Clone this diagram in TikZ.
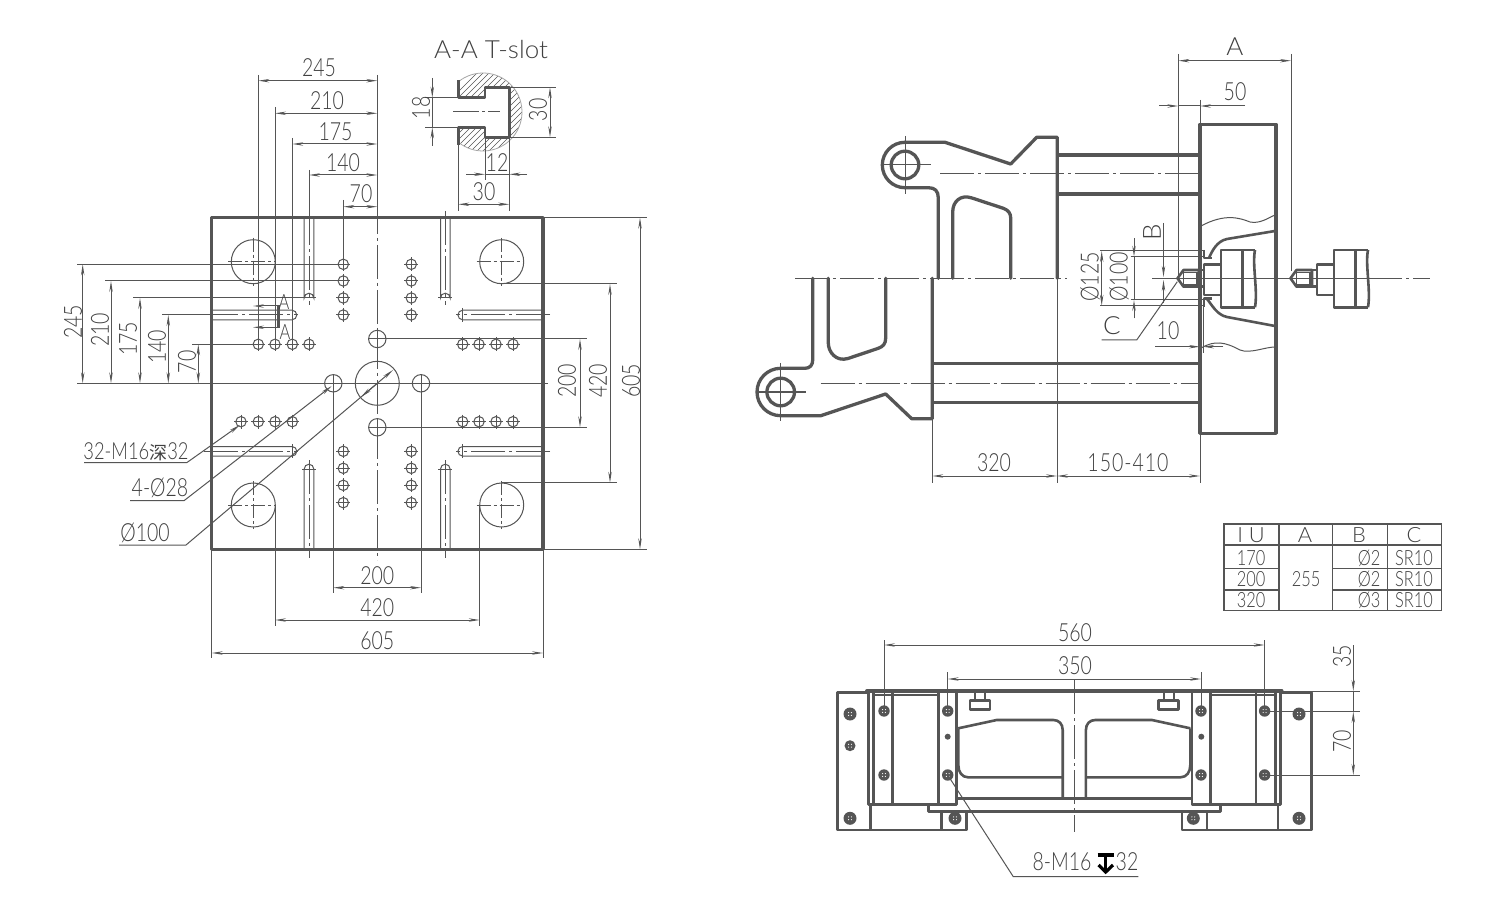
\documentclass[tikz,border=0pt]{standalone}
\usepackage{fontspec}
\setmainfont{Lato}[UprightFont=* Light,FakeStretch=0.78]
\newfontfamily\titf{Lato}[UprightFont=* Light,FakeStretch=1.04]
\newfontfamily\cjkf{Noto Sans CJK SC}
\usetikzlibrary{arrows.meta}
\definecolor{ink}{HTML}{555555}
\definecolor{txtc}{HTML}{404040}
\newcounter{lbl}
\newcommand\xT[3]{\stepcounter{lbl}\node[txt] (lbl\thelbl) at (#1,#2) {#3};}
\newcommand\xR[3]{\stepcounter{lbl}\node[txt,rotate=90] (lbl\thelbl) at (#1,#2) {#3};}
\newcommand\xS[3]{\stepcounter{lbl}\node[txs] (lbl\thelbl) at (#1,#2) {#3};}
\newcommand\xH[2]{\draw[thin1] (#1-7,#2)--(#1+7,#2) (#1,#2-7)--(#1,#2+7); \draw[thin1] (#1,#2) circle[radius=5.2];}
\newcommand\xB[2]{\draw[thin1] (#1,#2) circle[radius=22]; \draw[cen2] (#1-25,#2)--(#1+22,#2) (#1,#2-24)--(#1,#2+24);}
\newcommand\xL[3]{\fill[ink] (#1,#2) circle[radius=#3]; \fill[white] (#1-1.4,#2-1.4) circle[radius=.6] (#1+1.4,#2-1.4) circle[radius=.6] (#1-1.4,#2+1.4) circle[radius=.6] (#1+1.4,#2+1.4) circle[radius=.6];}
\tikzset{
 thin1/.style={draw=ink,line width=1pt},
 thick1/.style={draw=ink,line width=3.3pt,line join=round,line cap=round},
 med1/.style={draw=ink,line width=2.6pt,line join=round},
 cen1/.style={draw=ink,line width=1pt,dash pattern=on 34pt off 4pt on 3pt off 4pt},
 cen2/.style={draw=ink,line width=1pt,dash pattern=on 14pt off 3pt on 3pt off 3pt},
 dimn/.style={thin1,{Stealth[length=11pt,width=3.4pt]}-{Stealth[length=11pt,width=3.4pt]}},
 arrE/.style={thin1,-{Stealth[length=11pt,width=3.4pt]}},
 txt/.style={text=txtc,font=\fontsize{25}{25}\selectfont,inner sep=0pt},
 txs/.style={text=txtc,font=\fontsize{21}{21}\selectfont,inner sep=0pt},
}
\begin{document}
\begin{tikzpicture}[x=1pt,y=-1pt]
\useasboundingbox (0,0) rectangle (1500,909);
\fill[white] (0,0) rectangle (1500,909);
%% ---- LEFT PLATE ----
\draw[thick1] (211.7,217.7) rectangle (543,549.3);
\draw[cen1] (377.3,200)--(377.3,560);
\xB{253.3}{261.7}\xB{501.7}{261.7}\xB{253.3}{505}\xB{501.7}{505}
\draw[thin1] (377.3,383.3) circle[radius=22];
\foreach \p in {(333.3,383.3),(421,383.3),(377.3,339),(377.3,427.3)}{\draw[thin1] \p circle[radius=8.7];}
\draw[thin1] (324,383.3)--(343,383.3) (333.3,375)--(333.3,392) (421,375)--(421,392) (369,339)--(386,339) (377.3,331)--(377.3,348) (369,427.3)--(386,427.3) (377.3,419)--(377.3,436);
%% holes
\foreach \y in {264.3,281,298,315,451.3,468.3,485.3,502.7}{\xH{343.3}{\y}\xH{411.3}{\y}}
\foreach \x in {258.3,275,292.3,309}{\xH{\x}{344.3}}
\foreach \x in {462.7,479,496,513}{\xH{\x}{344.3}\xH{\x}{421.7}}
\foreach \x in {241,258.3,275,292.3}{\xH{\x}{421.7}}
%% slots vertical
\foreach \x in {309,445.3}{
 \draw[thin1] (\x-4.8,217.7)--(\x-4.8,298) arc[start angle=180,end angle=360,radius=4.8]--(\x+4.8,217.7);
 \draw[thin1] (\x-7,298)--(\x+7,298);
 \draw[cen1] (\x,211)--(\x,305);
 \draw[thin1] (\x-4.8,549.3)--(\x-4.8,469) arc[start angle=180,end angle=360,radius=4.8]--(\x+4.8,549.3);
 \draw[thin1] (\x-7,469)--(\x+7,469);
 \draw[cen1] (\x,460)--(\x,558);
}
%% slots horizontal
\foreach \y in {315,451.3}{
 \draw[thin1] (211.7,\y-4.8)--(292,\y-4.8) arc[start angle=270,end angle=450,radius=4.8]--(211.7,\y+4.8);
 \draw[thin1] (292,\y-7)--(292,\y+7);
 \draw[cen1] (204,\y)--(298,\y);
 \draw[thin1] (543,\y-4.8)--(462.7,\y-4.8) arc[start angle=270,end angle=90,radius=4.8]--(543,\y+4.8);
 \draw[thin1] (462.7,\y-7)--(462.7,\y+7);
 \draw[cen1] (550,\y)--(456,\y);
}
%% top dims
\draw[thin1] (258.3,75)--(258.3,344.3) (275,107)--(275,344.3) (292.3,138)--(292.3,344.3) (309,170)--(309,217) (343.3,200)--(343.3,264.3) (377.3,75)--(377.3,217);
\draw[dimn] (258.3,80.7)--(377.3,80.7);
\draw[dimn] (275,113.3)--(377.3,113.3);
\draw[dimn] (292.3,144)--(377.3,144);
\draw[dimn] (309,175)--(377.3,175);
\draw[dimn] (343.3,206.7)--(377.3,206.7);
\xT{319}{68}{245}\xT{327}{100.5}{210}\xT{335.5}{131.5}{175}\xT{343}{162.5}{140}\xT{361}{193.5}{70}
%% left dims
\draw[thin1] (77,264.3)--(343.3,264.3) (105,281)--(343.3,281) (133,298)--(309,298) (162,315)--(211,315) (192,344.3)--(258.3,344.3) (77,383.3)--(548,383.3);
\draw[dimn] (82.7,264.3)--(82.7,383.3);
\draw[dimn] (111,281)--(111,383.3);
\draw[dimn] (140,298)--(140,383.3);
\draw[dimn] (168.3,315)--(168.3,383.3);
\draw[dimn] (198.3,344.3)--(198.3,383.3);
\xR{73}{322}{245}\xR{100}{330}{210}\xR{128}{339}{175}\xR{157}{347}{140}\xR{187}{362}{70}
%% right dims
\draw[thin1] (543,217.7)--(647,217.7) (543,549.3)--(647,549.3) (501.7,284)--(617,284) (501.7,482.7)--(617,482.7) (377.3,339)--(587,339) (377.3,427.3)--(587,427.3);
\draw[dimn] (640,217.7)--(640,549.3);
\draw[dimn] (610,284)--(610,482.7);
\draw[dimn] (580,339)--(580,427.3);
\xR{631}{381}{605}\xR{598}{381}{420}\xR{567}{381}{200}
%% bottom dims
\draw[thin1] (333.3,392)--(333.3,593) (421,392)--(421,593) (275,505)--(275,626) (479.7,505)--(479.7,626) (211.7,549.3)--(211.7,658) (543,549.3)--(543,658);
\draw[dimn] (333.3,587.7)--(421,587.7);
\draw[dimn] (275,620)--(479.7,620);
\draw[dimn] (211.7,653)--(543,653);
\xT{377.3}{576}{200}\xT{377.3}{608}{420}\xT{377.3}{641}{605}
%% leaders
\coordinate (l1a) at (84,462.7);\coordinate (l1b) at (186.7,462.7);\coordinate (l1c) at (240,425);
\draw[arrE] (l1a)--(l1b)--(l1c);
\coordinate (l2a) at (130,500.7);\coordinate (l2b) at (184,500.7);\coordinate (l2c) at (331.7,386);
\draw[arrE] (l2a)--(l2b)--(l2c);
\coordinate (l3a) at (119,545);\coordinate (l3b) at (186,545);\coordinate (l3c) at (393,370);
\draw[arrE] (l3a)--(l3b)--(l3c);
\draw[thin1,-{Stealth[length=11pt,width=3.4pt]}] (377.3,383.3)--(361,397);
\xT{136}{452}{\fontsize{23.5}{24}\selectfont 32-M16{\cjkf\fontsize{18}{18}\selectfont 深}32}\xT{160}{488}{4-Ø28}\xT{145}{533}{Ø100}
%% A-A marks
\draw[draw=ink,line width=3pt] (278.5,305)--(278.5,328);
\draw[arrE] (278,306)--(253,306);
\draw[arrE] (278,327.3)--(253,327.3);
\xS{284}{302}{A}\xS{285}{332}{A}
%% ---- T-SLOT ----
\begin{scope}
\clip plot[domain=-129:129,samples=50] ({483+39*cos(\x)},{112+39*sin(\x)}) -- (458.3,127.3)--(485,127.3)--(485,137.3)--(509.3,137.3)--(509.3,87.3)--(485,87.3)--(485,97.7)--(458.3,97.7)--cycle;
\foreach \a in {390,396,...,560}{\draw[draw=ink,line width=.7pt] (\a,160)--(\a+100,60);}
\end{scope}
\draw[draw=black!35,line width=.8pt] plot[domain=-129:129,samples=50] ({483+39*cos(\x)},{112+39*sin(\x)});
\draw[med1] (458.3,80)--(458.3,97.7)--(485,97.7)--(485,87.3)--(509.3,87.3)--(509.3,137.3)--(485,137.3)--(485,127.3)--(458.3,127.3)--(458.3,145);
\draw[draw=ink,line width=1pt,dash pattern=on 26pt off 3pt on 3pt off 3pt] (453,112)--(500,112);
\xT{491}{50}{\titf A-A T-slot}
\draw[thin1] (425,97.7)--(458,97.7) (425,127.3)--(458,127.3) (509,87.3)--(556,87.3) (509,137.3)--(556,137.3) (485,137)--(485,180) (509.3,137)--(509.3,211) (458.3,145)--(458.3,211);
\draw[arrE] (432.3,78)--(432.3,97.7);
\draw[arrE] (432.3,146)--(432.3,127.3);
\draw[thin1] (432.3,97.7)--(432.3,127.3);
\draw[dimn] (550,87.3)--(550,137.3);
\draw[arrE] (466,174.3)--(485,174.3);
\draw[arrE] (527,174.3)--(509.3,174.3);
\draw[thin1] (485,174.3)--(509.3,174.3);
\draw[dimn] (458.3,204.3)--(509.3,204.3);
\xR{421}{108}{18}\xR{538}{110}{30}\xT{497}{163}{12}\xT{484}{192}{30}
%% ---- SIDE VIEW ----
%% upper toggle
\draw[thick1] (905,142.3)--(945,142.3)--(1010.7,164)--(1036.7,137.3)--(1057.3,137.3)--(1057.3,278.3);
\draw[thick1] (905,142.3) arc[start angle=270,end angle=90,radius=22.7]--(928.3,187.7) .. controls (935,187.7) and (938.3,191) .. (938.3,198)--(938.3,278.3);
\draw[thick1] (905,165) circle[radius=13.8];
\draw[thin1] (905,136)--(905,194) (881,165)--(919,165);
\draw[cen2] (919,165)--(931,165);
\draw[thick1] (952.7,278.3)--(952.7,212) .. controls (952.7,202) and (960,194) .. (972,198)--(1003.3,208.3) .. controls (1008,210) and (1010.7,213) .. (1010.7,218)--(1010.7,278.3);
%% lower toggle
\draw[thick1] (932.3,278.3)--(932.3,418.7)--(911.7,418.7)--(885.7,394)--(820.7,415.7)--(780.7,415.7) arc[start angle=90,end angle=270,radius=23.7]--(805,368.3) .. controls (810,368.3) and (812.7,365) .. (812.7,360)--(812.7,278.3);
\draw[thick1] (780.7,392) circle[radius=13.8];
\draw[thin1] (780.7,363)--(780.7,421) (756,392)--(795,392);
\draw[cen2] (795,392)--(806,392);
\draw[thick1] (828.3,278.3)--(828.3,343) .. controls (828.3,352) and (836,362) .. (848,358.5)--(878.3,348.3) .. controls (883,346.5) and (885.7,344) .. (885.7,338)--(885.7,278.3);
%% rods
\draw[draw=ink,line width=3.3pt] (1057.3,155)--(1200,155) (1057.3,194)--(1200,194) (932.3,363.3)--(1200,363.3) (932.3,402.3)--(1200,402.3);
\draw[cen1] (940,174)--(1199,174);
\draw[cen1] (820.7,383.3)--(1199,383.3);
\draw[cen1] (795,278.3)--(1067.3,278.3);
\draw[thin1] (1152,278.3)--(1368,278.3);
\draw[cen1] (1368,278.3)--(1430,278.3);
%% platen
\draw[thick1] (1200,124.3) rectangle (1276,433.3);
\draw[thin1] (1201,226) .. controls (1225,213) and (1240,218) .. (1250,222) .. controls (1260,224) and (1268,218) .. (1275,215);
\draw[thin1] (1201,348) .. controls (1215,340) and (1225,342) .. (1240,350) .. controls (1250,354) and (1265,347) .. (1275,347);
\draw[med1] (1275,231)--(1227,239) .. controls (1217,241) and (1212,251) .. (1209,258);
\draw[med1] (1275,326)--(1227,317) .. controls (1217,315) and (1212,305) .. (1207,299);
\draw[med1] (1204,250)--(1204,258)--(1212,258) (1204,307)--(1204,298.6)--(1212,298.6);
%% nozzle + screw units
\foreach \s in {0,113}{
\begin{scope}[xshift=\s pt]
 \draw[med1] (1177.5,278.3)--(1183.5,270)--(1199,270)--(1199,286.7)--(1183.5,286.7)--cycle;
 \draw[draw=ink,line width=1.2pt] (1183.5,272.7) rectangle (1197,285);
 \draw[med1] (1199,270) rectangle (1204,286.7);
 \draw[med1] (1204,264.3) rectangle (1221,295);
 \draw[med1] (1255,250)--(1221,250)--(1221,307.3)--(1255,307.3);
 \draw[med1] (1255,250) .. controls (1252,265) and (1258,290) .. (1255,307.3);
 \draw[med1] (1242.7,250)--(1242.7,307.3);
\end{scope}}
%% side dims
\draw[thin1] (1178.3,54)--(1178.3,278) (1291,54)--(1291,271) (1200,100)--(1200,124);
\draw[dimn] (1178.3,60.7)--(1291,60.7);
\draw[arrE] (1159,106)--(1178.3,106);
\draw[arrE] (1245,106)--(1200,106);
\draw[thin1] (1178.3,106)--(1200,106);
\xT{1235}{47}{\titf A}\xT{1235}{92}{50}
\draw[thin1] (1100,251)--(1204,251) (1100,305.7)--(1204,305.7) (1130.7,256.7)--(1204,256.7) (1130.7,300)--(1204,300);
\draw[dimn] (1101.7,251)--(1101.7,305.7);
\draw[arrE] (1134,238.3)--(1134,256.7);
\draw[arrE] (1134,318.3)--(1134,300);
\draw[thin1] (1134,256.7)--(1134,300);
\xR{1090}{277}{Ø125}\xR{1119}{277}{Ø100}
\draw[arrE] (1163.5,223)--(1163.5,277);
\draw[arrE] (1163.5,303)--(1163.5,280);
\xR{1152}{232}{\titf B}
\coordinate (c1) at (1101.7,340);\coordinate (c2) at (1136.7,340);\coordinate (c3) at (1177.3,281.7);
\draw[thin1] (c1)--(c2)--(c3);
\xT{1112}{326}{\titf C}
\draw[arrE] (1155,346.7)--(1200,346.7);
\draw[arrE] (1223.3,346.7)--(1203,346.7);
\draw[thin1] (1203,305)--(1203,353);
\xT{1168}{331}{10}
\draw[thin1] (1057,278.3)--(1057,482.7) (932.3,419)--(932.3,482.7) (1200,434)--(1200,482.7);
\draw[dimn] (932.3,476)--(1057,476);
\draw[dimn] (1057,476)--(1200,476);
\xT{994}{463}{320}\xT{1128}{463}{\addfontfeature{LetterSpace=4}150-410}
%% ---- TABLE ----
\draw[draw=ink,line width=1.2pt] (1224,524) rectangle (1441.7,610.7);
\draw[draw=ink,line width=1.2pt] (1279,524)--(1279,610.7) (1332.7,524)--(1332.7,610.7) (1387.3,524)--(1387.3,610.7) (1224,545)--(1441.7,545) (1224,568.3)--(1279,568.3) (1224,590)--(1279,590) (1332.7,568.3)--(1441.7,568.3) (1332.7,590)--(1441.7,590);
\xS{1251}{535}{\titf I U}\xS{1305}{535}{\titf A}\xS{1359}{535}{\titf B}\xS{1414}{535}{\titf C}
\xS{1251}{558}{170}\xS{1251}{579}{200}\xS{1251}{600}{320}\xS{1306}{579}{255}
\xS{1369}{558}{Ø2}\xS{1369}{579}{Ø2}\xS{1369}{600}{Ø3}
\xS{1414}{558}{SR10}\xS{1414}{579}{SR10}\xS{1414}{600}{SR10}
%% ---- BOTTOM VIEW ----
\draw[med1] (866.7,692.7)--(837.3,692.7)--(837.3,830)--(966.7,830)--(966.7,811.7);
\draw[med1] (941.7,811.7)--(941.7,830) (870.7,805)--(870.7,830);
\draw[med1] (1281.9,692.7)--(1311.3,692.7)--(1311.3,830)--(1181.9,830)--(1181.9,811.7);
\draw[med1] (1206.9,811.7)--(1206.9,830) (1277.9,805)--(1277.9,830);
\draw[thick1] (866.7,691)--(1281.9,691);
\draw[med1] (873,695)--(938.3,695) (1210.3,695)--(1275.6,695);
\draw[med1] (868.3,691)--(868.3,804.3)--(956.7,804.3)--(956.7,691);
\draw[med1] (873.3,691)--(873.3,804.3) (892.7,691)--(892.7,804.3) (938.3,691)--(938.3,804.3);
\draw[med1] (1280.3,691)--(1280.3,804.3)--(1191.9,804.3)--(1191.9,691);
\draw[med1] (1275.3,691)--(1275.3,804.3) (1255.9,691)--(1255.9,804.3) (1210.3,691)--(1210.3,804.3);
\draw[med1] (956.7,798.3)--(1191.9,798.3);
\draw[med1] (928.3,804.3)--(928.3,811.7)--(1220.3,811.7)--(1220.3,804.3);
\draw[med1] (958.3,728.3)--(996.7,720)--(1053.3,720) .. controls (1059,720) and (1062.7,724) .. (1062.7,730)--(1062.7,798.3);
\draw[med1] (1062.7,777.3)--(968,777.3) .. controls (962,777.3) and (958.3,772) .. (958.3,765)--(958.3,728.3);
\draw[med1] (1190.3,728.3)--(1151.9,720)--(1095.3,720) .. controls (1089.6,720) and (1085.9,724) .. (1085.9,730)--(1085.9,798.3);
\draw[med1] (1085.9,777.3)--(1180.6,777.3) .. controls (1186.6,777.3) and (1190.3,772) .. (1190.3,765)--(1190.3,728.3);
\draw[draw=ink,line width=2pt] (975,691)--(975,700) (985,691)--(985,700) (1163.6,691)--(1163.6,700) (1173.6,691)--(1173.6,700);
\draw[med1] (970,700.5) rectangle (990,709.5);
\draw[med1] (1158.6,700.5) rectangle (1178.6,709.5);
\foreach \x/\y in {884/711,884/775,947.7/711,947.7/775,1264.6/711,1264.6/775,1201/711,1201/775}{\xL{\x}{\y}{5.7}}
\foreach \x/\y in {850/714,850/818.3,955/818.3,1299/714,1299/818.3,1193.3/818.3}{\xL{\x}{\y}{6.5}}
\xL{850}{745.7}{5.5}
\fill[ink] (947.7,736.7) circle[radius=3] (1201.3,736.7) circle[radius=3];
\draw[cen1] (1074.3,680)--(1074.3,832);
\draw[thin1] (884,640)--(884,711) (1264.6,640)--(1264.6,711) (947.7,672)--(947.7,711) (1201,672)--(1201,711);
\draw[dimn] (884,645)--(1264.6,645);
\draw[dimn] (947.7,679)--(1201,679);
\xT{1075}{633}{560}\xT{1075}{666}{350}
\draw[thin1] (1282,691)--(1360,691) (1264.6,711.7)--(1360,711.7) (1264.6,775)--(1360,775);
\draw[arrE] (1353.3,645)--(1353.3,691);
\draw[thin1] (1353.3,691)--(1353.3,711.7);
\draw[dimn] (1353.3,711.7)--(1353.3,775);
\xR{1342}{656}{35}\xR{1342}{741}{70}
\coordinate (m1) at (947.7,775);\coordinate (m2) at (1013.3,876.7);\coordinate (m3) at (1138.3,876.7);
\draw[thin1] (m1)--(m2)--(m3);
\xT{1062}{862}{8-M16}\xT{1127}{862}{32}
\draw[draw=black,line width=3.2pt] (1097.5,855)--(1114,855) (1105.7,855)--(1105.7,870);
\draw[draw=black,line width=3.2pt] (1098.5,865)--(1105.7,872)--(1113,865);
\end{tikzpicture}
\end{document}
